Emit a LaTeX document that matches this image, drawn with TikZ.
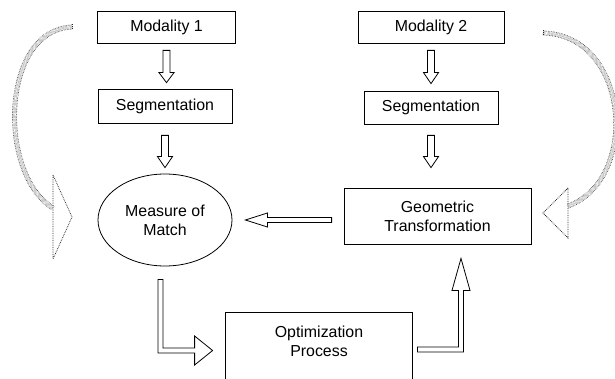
\documentclass[tikz,border=0pt]{standalone}
\usepackage{fontspec}
\setmainfont{Liberation Sans}
\usetikzlibrary{calc,shapes.geometric}
\tikzset{
  box/.style={draw, line width=0.8pt, inner sep=0pt, align=center,
    font=\fontsize{15.9}{19}\selectfont},
  hollow/.style={draw, line width=0.8pt, fill=white, line join=miter},
  dotshaft/.style={draw=black!85, densely dotted, line width=0.6pt, double=white, double distance=3.6pt},
  dotline/.style={draw=black!85, densely dotted, line width=0.75pt},
}
% hollow down arrow: #1 from node, #2 to node, #3 gap at top, #4 gap at tip, #5 head length
\newcommand\hdownarrow[5]{%
  \draw[hollow] ($(#1.south)+(-3.5,#3)$) -- ($(#1.south|-#2.north)+(-3.5,-#4-#5)$)
   -- ($(#1.south|-#2.north)+(-7.5,-#4-#5)$) -- ($(#1.south|-#2.north)+(0,-#4)$)
   -- ($(#1.south|-#2.north)+(7.5,-#4-#5)$) -- ($(#1.south|-#2.north)+(3.5,-#4-#5)$)
   -- ($(#1.south)+(3.5,#3)$) -- cycle;}
\begin{document}
\begin{tikzpicture}[x=1pt,y=-1pt]
\useasboundingbox (0,0) rectangle (615,379);
\fill[white] (0,0) rectangle (615,379);
\clip (0,0) rectangle (615,379);

% nodes
\node[box, minimum width=138, minimum height=32] (m1) at (166.5,27) {Modality 1};
\node[box, minimum width=134, minimum height=34] (s1) at (165,106) {Segmentation};
\node[box, minimum width=146, minimum height=32] (m2) at (431,27) {Modality 2};
\node[box, minimum width=134, minimum height=33] (s2) at (431,107.5) {Segmentation};
\node[box, ellipse, minimum width=134, minimum height=92] (ell) at (165,220) {Measure of\\Match};
\node[box, minimum width=187, minimum height=56] (geo) at (437.5,216) {Geometric\\Transformation};
\node[box, draw=none, minimum width=186, minimum height=66] (opt) at (319,346) {};
\node[box, draw=none] (optt) at (319,341.5) {Optimization\\Process};
\draw[line width=0.8pt] (opt.south west) -- (opt.north west) -- (opt.north east) -- (opt.south east);

% straight hollow arrows
\hdownarrow{m1}{s1}{7}{6}{10}
\hdownarrow{s1}{ell}{12}{6}{11}
\hdownarrow{m2}{s2}{7}{7}{11}
\hdownarrow{s2}{geo}{11}{20}{11}

% geometric -> measure
\coordinate (a4s) at ($(geo.west|-ell.east)+(-12,0)$);
\coordinate (a4t) at ($(ell.east)+(13,0)$);
\draw[hollow] ($(a4s)+(0,-2.5)$) -- ($(a4t)+(22,-2.5)$) -- ($(a4t)+(22,-7)$) -- (a4t)
  -- ($(a4t)+(22,7)$) -- ($(a4t)+(22,2.5)$) -- ($(a4s)+(0,2.5)$) -- cycle;

% measure -> optimization
\coordinate (a5) at ($(ell.south)+(-4.5,13)$);
\coordinate (a5t) at ($(opt.west)+(-13,4.5)$);
\draw[hollow] ($(a5)+(-2.5,0)$) -- ($(a5|-a5t)+(-2.5,2.5)$) -- ($(a5t)+(-18,2.5)$)
  -- ($(a5t)+(-18,14.5)$) -- (a5t) -- ($(a5t)+(-18,-14.5)$) -- ($(a5t)+(-18,-2.5)$)
  -- ($(a5|-a5t)+(2.5,-2.5)$) -- ($(a5)+(2.5,0)$) -- cycle;

% optimization -> geometric
\coordinate (a6) at ($(opt.east)+(5,3.5)$);
\coordinate (a6t) at ($(geo.south)+(23.5,14)$);
\draw[hollow] ($(a6)+(0,-2.5)$) -- ($(a6t|-a6)+(-2.5,-2.5)$) -- ($(a6t)+(-2.5,32)$)
  -- ($(a6t)+(-9,32)$) -- (a6t) -- ($(a6t)+(9,32)$) -- ($(a6t)+(2.5,32)$)
  -- ($(a6t|-a6)+(2.5,2.5)$) -- ($(a6)+(0,2.5)$) -- cycle;

% left dotted curved arrow
\coordinate (l0) at (72,27);
\coordinate (l1) at (53,208);
\coordinate (lt) at (72,217);
\draw[dotshaft] (l0) .. controls (0,30) and (-2,175) .. (l1);
\draw[dotline] ($(l0)+(0,-2.6)$) -- ($(l0)+(0,2.6)$);
\draw[dotline] ($(lt)+(-19,-42)$) -- (lt) -- ($(lt)+(-19,42)$) -- cycle;

% right dotted curved arrow
\coordinate (r0) at (543,33);
\coordinate (r1) at (568,206);
\coordinate (rt) at (543,213);
\draw[dotshaft] (r0) .. controls (630,35) and (640,180) .. (r1);
\draw[dotline] ($(r0)+(0,-2.6)$) -- ($(r0)+(0,2.6)$);
\draw[dotline] ($(rt)+(25,-25)$) -- (rt) -- ($(rt)+(25,25)$) -- cycle;
\end{tikzpicture}
\end{document}
